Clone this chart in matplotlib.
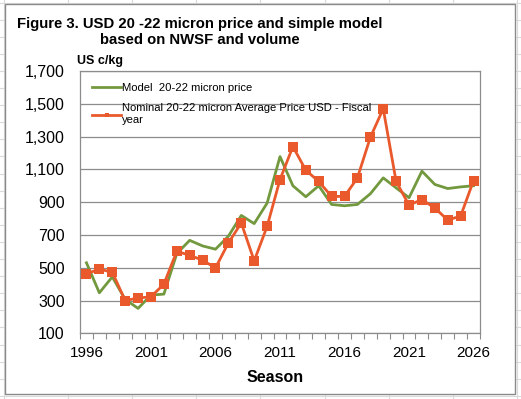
import numpy as np
import matplotlib
matplotlib.use("Agg")
import matplotlib.pyplot as plt
from matplotlib.lines import Line2D
from matplotlib.patches import Rectangle

plt.rcParams['font.family'] = ['Liberation Sans', 'DejaVu Sans']

# Data (US c/kg), seasons 1996-2026
seasons = list(range(1996, 2027))
model_price = [530, 347, 444, 307, 252, 333, 339, 586, 667, 633, 613, 692, 819, 769, 894,
               1178, 1000, 933, 1000, 886, 878, 886, 951, 1048, 987, 927, 1089, 1008, 983,
               993, 1000]
nominal_price = [463, 491, 473, 300, 315, 323, 400, 600, 576, 546, 499, 651, 773, 542, 752,
                 1038, 1239, 1095, 1026, 935, 935, 1048, 1295, 1470, 1026, 882, 916, 864,
                 791, 815, 1032]
year_labels = ['1996', '2001', '2006', '2011', '2016', '2021', '2026']
y_ticks = [100, 300, 500, 700, 900, 1100, 1300, 1500, 1700]

GREEN = "#73993F"
ORANGE = "#E9592C"
GRID = "#8C8C8C"

W, H = 521, 399
fig = plt.figure(figsize=(W / 100, H / 100), dpi=100)

def fx(px): return px / W
def fy(py): return 1 - py / H

# spreadsheet cell grid behind the chart
for cx in np.arange(4, W, 64.1):
    fig.add_artist(Line2D([fx(cx), fx(cx)], [0, 1], color="#dadada", lw=0.8, zorder=0))
for ry in np.arange(2.5, H, 17.1):
    fig.add_artist(Line2D([0, 1], [fy(ry), fy(ry)], color="#dadada", lw=0.8, zorder=0))

# chart area
fig.add_artist(Rectangle((fx(5), fy(394)), fx(515) - fx(5), fy(4) - fy(394),
                         facecolor="white", edgecolor="#8a8a8a", lw=1.0, zorder=1))

ax = fig.add_axes([fx(80), fy(333.3), fx(480) - fx(80), fy(71) - fy(333.3)])
ax.set_zorder(2)
ax.patch.set_alpha(0)

ax.plot(seasons, model_price, color=GREEN, lw=2.0, label="Model  20-22 micron price", zorder=3)
ax.plot(seasons, nominal_price, color=ORANGE, lw=2.0, marker="s", markersize=6.5,
        markeredgewidth=0, label="Nominal 20-22 micron Average Price USD - Fiscal\nyear", zorder=4)

ax.set_xlim(1995.5, 2026.5)
ax.set_ylim(100, 1700)
ax.set_yticks(y_ticks)
ax.set_yticklabels([f"{v:,}" for v in y_ticks])
ax.set_xticks([int(y) for y in year_labels])
ax.set_xticklabels(year_labels)
ax.set_xticks(np.arange(1995.5, 2027, 1), minor=True)
ax.tick_params(axis='x', which='major', length=0, pad=9, labelsize=11)
ax.tick_params(axis='x', which='minor', length=4, direction='out', color=GRID, width=0.8)
ax.tick_params(axis='y', length=0, pad=11, labelsize=11.5)
ax.yaxis.grid(True, color=GRID, lw=0.9)
ax.set_axisbelow(True)
for s in ax.spines.values():
    s.set_color(GRID)
    s.set_linewidth(0.9)

leg = ax.legend(loc="upper left", bbox_to_anchor=(0.01, 0.985), frameon=False, fontsize=8.1,
                handlelength=2.6, handletextpad=0.1, borderaxespad=0.3, labelspacing=0.95,
                handleheight=0.6)
leg.legend_handles[1].set_markersize(3)

fig.text(fx(200), fy(32), "Figure 3. USD 20 -22 micron price and simple model\nbased on NWSF and volume",
         ha="center", va="center", fontsize=10.7, fontweight="bold", multialignment="center",
         linespacing=1.25, zorder=5)
fig.text(fx(77), fy(61), "US c/kg", ha="left", va="center", fontsize=9, fontweight="bold", zorder=5)
fig.text(fx(275), fy(378), "Season", ha="center", va="center", fontsize=11.5, fontweight="bold", zorder=5)

fig.savefig("out.png", dpi=100)
